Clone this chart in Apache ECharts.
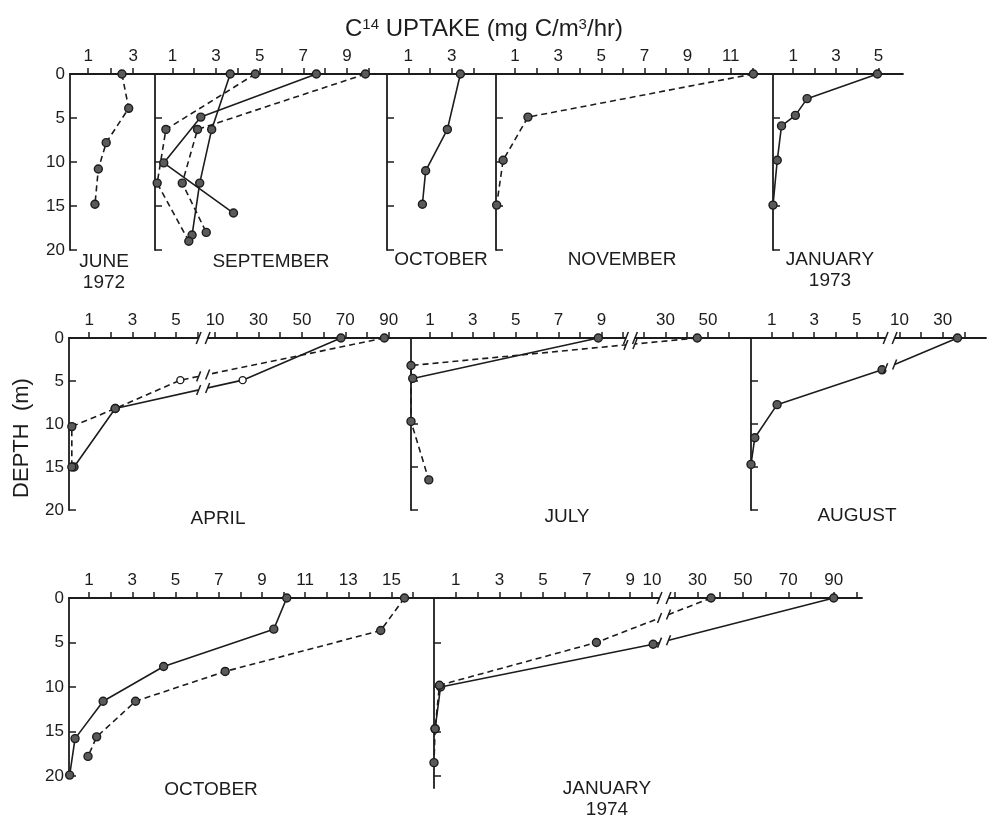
<!DOCTYPE html>
<html>
<head>
<meta charset="utf-8">
<title>C14 uptake profiles</title>
<script src="https://cdn.jsdelivr.net/npm/echarts@6/dist/echarts.min.js"></script>
<style>
  html, body { margin: 0; padding: 0; background: #fff; }
  #chart { width: 987px; height: 818px; }
</style>
</head>
<body>
<div id="chart"></div>
<script>
// ---- Data: each profile point is [uptake (mg C/m3/hr), depth (m)] ----
const depthTicks = [0, 5, 10, 15, 20];

const jun72Dashed  = [[2.5, 0], [2.8, 3.9], [1.8, 7.8], [1.45, 10.8], [1.3, 14.8]];
const sep72SolidA  = [[7.6, 0], [2.3, 4.9], [0.6, 10.1], [3.8, 15.8]];
const sep72SolidB  = [[3.65, 0], [2.8, 6.3], [2.25, 12.4], [1.9, 18.3]];
const sep72DashedA = [[4.8, 0], [0.7, 6.3], [0.3, 12.4], [1.75, 19.0]];
const sep72DashedB = [[9.85, 0], [2.15, 6.3], [1.45, 12.4], [2.55, 18.0]];
const oct72Solid   = [[3.4, 0], [2.8, 6.3], [1.8, 11.0], [1.65, 14.8]];
const nov72Dashed  = [[12.05, 0], [1.6, 4.9], [0.45, 9.8], [0.15, 14.9]];
const jan73Solid   = [[4.95, 0], [1.65, 2.8], [1.1, 4.7], [0.45, 5.9], [0.25, 9.8], [0.05, 14.9]];
const apr73Solid   = [[68, 0], [22.7, 4.9], [2.2, 8.2], [0.3, 15]];
const apr73Dashed  = [[88, 0], [5.2, 4.9], [2.2, 8.2], [0.2, 10.3], [0.2, 15]];
const jul73Solid   = [[8.85, 0], [0.2, 4.7]];
const jul73Dashed  = [[45, 0], [0.12, 3.2], [0.12, 9.7], [0.95, 16.5]];
const aug73Solid   = [[36.8, 0], [6.2, 3.7], [1.25, 7.75], [0.2, 11.6], [0.02, 14.7]];
const oct73Solid   = [[10.15, 0], [9.55, 3.5], [4.45, 7.7], [1.65, 11.6], [0.35, 15.8], [0.1, 19.9]];
const oct73Dashed  = [[15.6, 0], [14.5, 3.65], [7.3, 8.25], [3.15, 11.6], [1.35, 15.6], [0.95, 17.8]];
const jan74Solid   = [[90, 0], [10.5, 5.2], [0.3, 10], [0.05, 14.7]];
const jan74Dashed  = [[36, 0], [7.45, 5], [0.25, 9.8], [0.05, 14.7], [0, 18.5]];

// indices of points drawn as open circles
const apr73SolidOpen  = [1];
const apr73DashedOpen = [1];

// ---- Uptake axis ticks and labels ----
const jun72Ticks = [1, 2, 3];                         const jun72Labels = [1, 3];
const sep72Ticks = [1, 2, 3, 4, 5, 6, 7, 8, 9, 10];   const sep72Labels = [1, 3, 5, 7, 9];
const oct72Ticks = [1, 2, 3, 4];                      const oct72Labels = [1, 3];
const nov72Ticks = [1, 2, 3, 4, 5, 6, 7, 8, 9, 10, 11, 12]; const nov72Labels = [1, 3, 5, 7, 9, 11];
const jan73Ticks = [1, 2, 3, 4, 5];                   const jan73Labels = [1, 3, 5];
const apr73Ticks = [1, 2, 3, 4, 5, 6, 10, 20, 30, 40, 50, 60, 70, 80, 90, 100];
const apr73Labels = [1, 3, 5, 10, 30, 50, 70, 90];
const jul73Ticks = [1, 2, 3, 4, 5, 6, 7, 8, 9, 10, 20, 30, 40, 50, 60];
const jul73Labels = [1, 3, 5, 7, 9, 30, 50];
const aug73Ticks = [1, 2, 3, 4, 5, 6, 10, 20, 30, 40];
const aug73Labels = [1, 3, 5, 10, 30];
const oct73Ticks = [1, 2, 3, 4, 5, 6, 7, 8, 9, 10, 11, 12, 13, 14, 15, 16];
const oct73Labels = [1, 3, 5, 7, 9, 11, 13, 15];
const jan74Ticks = [1, 2, 3, 4, 5, 6, 7, 8, 9, 10, 20, 30, 40, 50, 60, 70, 80, 90, 100];
const jan74Labels = [1, 3, 5, 7, 9, 10, 30, 50, 70, 90];

// ---- Panel layout and axis scales ----
// brk: broken uptake scale; values >= v0 are compressed by factor k and start at axis unit d0
const panels = [
  { grid: { left: 70,  top: 74,  width: 85,  height: 176 }, min: 0.19, max: 3.97, ticks: jun72Ticks, labels: jun72Labels, depthLabels: true,
    lines: [{ data: jun72Dashed, dashed: true }] },
  { grid: { left: 155, top: 74,  width: 232, height: 176 }, min: 0.2, max: 10.84, ticks: sep72Ticks, labels: sep72Labels,
    lines: [{ data: sep72SolidA }, { data: sep72SolidB }, { data: sep72DashedA, dashed: true }, { data: sep72DashedB, dashed: true }] },
  { grid: { left: 387, top: 74,  width: 109, height: 176 }, min: 0.02, max: 5.04, ticks: oct72Ticks, labels: oct72Labels,
    lines: [{ data: oct72Solid }] },
  { grid: { left: 496, top: 74,  width: 277, height: 176 }, min: 0.12, max: 12.96, ticks: nov72Ticks, labels: nov72Labels,
    lines: [{ data: nov72Dashed, dashed: true }] },
  { grid: { left: 773, top: 74,  width: 130, height: 176 }, min: 0.05, max: 6.15, ticks: jan73Ticks, labels: jan73Labels,
    lines: [{ data: jan73Solid }] },
  { grid: { left: 69,  top: 338, width: 341, height: 172 }, min: 0.07, max: 15.78, ticks: apr73Ticks, labels: apr73Labels, depthLabels: true,
    brk: { v0: 10, d0: 6.8, k: 10, mark: 6.25 },
    lines: [{ data: apr73Solid, open: apr73SolidOpen }, { data: apr73Dashed, dashed: true, open: apr73DashedOpen }] },
  { grid: { left: 411, top: 338, width: 340, height: 172 }, min: 0.12, max: 15.97, ticks: jul73Ticks, labels: jul73Labels,
    brk: { v0: 10, d0: 10, k: 10.1, mark: 10.35 },
    lines: [{ data: jul73Solid }, { data: jul73Dashed, dashed: true }] },
  { grid: { left: 751, top: 338, width: 235, height: 172 }, min: 0.02, max: 11.1, ticks: aug73Ticks, labels: aug73Labels,
    brk: { v0: 10, d0: 7.02, k: 9.8, mark: 6.58 },
    lines: [{ data: aug73Solid }] },
  { grid: { left: 69,  top: 598, width: 364, height: 178 }, min: 0.07, max: 16.92, ticks: oct73Ticks, labels: oct73Labels, depthLabels: true,
    lines: [{ data: oct73Solid }, { data: oct73Dashed, dashed: true }] },
  { grid: { left: 434, top: 598, width: 428, height: 190 }, min: 0, max: 19.63, depthMax: 21.35, ticks: jan74Ticks, labels: jan74Labels,
    brk: { v0: 10, d0: 10, k: 9.6, mark: 10.55 },
    lines: [{ data: jan74Solid }, { data: jan74Dashed, dashed: true }] }
];

const monthLabels = [
  { text: 'JUNE\n1972',    x: 104, y: 272 },
  { text: 'SEPTEMBER',     x: 271, y: 262 },
  { text: 'OCTOBER',       x: 441, y: 260 },
  { text: 'NOVEMBER',      x: 622, y: 260 },
  { text: 'JANUARY\n1973', x: 830, y: 270 },
  { text: 'APRIL',         x: 218, y: 519 },
  { text: 'JULY',          x: 567, y: 517 },
  { text: 'AUGUST',        x: 857, y: 516 },
  { text: 'OCTOBER',       x: 211, y: 790 },
  { text: 'JANUARY\n1974', x: 607, y: 799 }
];

const ink = '#1c1c1c';
const font = 'Liberation Sans';

// map an uptake value onto the (possibly broken) axis
function toAxis(p, v) {
  const b = p.brk;
  if (!b || v < b.v0) return v;
  return b.d0 + (v - b.v0) / b.k;
}

// short slanted stroke centred on (x, y)
function slash(x, y, h) {
  return { type: 'line', shape: { x1: x - h * 0.4, y1: y + h, x2: x + h * 0.4, y2: y - h },
           style: { stroke: ink, lineWidth: 1.5 } };
}

const grids = [], xAxes = [], yAxes = [], series = [];

panels.forEach((p, i) => {
  grids.push(Object.assign({ containLabel: false, outerBoundsMode: 'none' }, p.grid));

  const labelMap = new Map(p.labels.map(v => [toAxis(p, v).toFixed(4), String(v)]));
  xAxes.push({
    type: 'value', gridIndex: i, position: 'top', min: p.min, max: p.max,
    axisLine: { show: true, onZero: false, lineStyle: { color: ink, width: 1.8 } },
    axisTick: { show: true, inside: false, length: 6, lineStyle: { color: ink, width: 1.5 },
      customValues: p.ticks.map(v => toAxis(p, v)) },
    axisLabel: { show: true, color: ink, fontSize: 17, fontFamily: font, margin: 9,
      customValues: p.labels.map(v => toAxis(p, v)),
      formatter: v => labelMap.get(Number(v).toFixed(4)) || '' },
    splitLine: { show: false }
  });

  yAxes.push({
    type: 'value', gridIndex: i, inverse: true, min: 0, max: p.depthMax || 20,
    axisLine: { show: true, onZero: false, lineStyle: { color: ink, width: 1.8 } },
    axisTick: { show: true, inside: true, length: 7, lineStyle: { color: ink, width: 1.5 },
      customValues: depthTicks },
    axisLabel: { show: !!p.depthLabels, color: ink, fontSize: 17, fontFamily: font, margin: 5,
      customValues: depthTicks },
    splitLine: { show: false }
  });

  p.lines.forEach(l => {
    const open = l.open || [];
    const pts = l.data.map(pt => [toAxis(p, pt[0]), pt[1]]);
    series.push({
      type: 'line', xAxisIndex: i, yAxisIndex: i, z: 3,
      symbol: 'circle', symbolSize: 8, showAllSymbol: true,
      lineStyle: { color: ink, width: 1.6, type: l.dashed ? [6, 4] : 'solid' },
      itemStyle: { color: '#5a5a5a', borderColor: ink, borderWidth: 1.4 },
      data: pts.map((v, j) => {
        const item = { value: v };
        if (open.includes(j)) { item.itemStyle = { color: '#fff' }; item.symbolSize = 7; }
        return item;
      }),
      animation: false
    });

    // interrupt segments that cross the scale break
    if (p.brk) {
      const segs = [];
      for (let j = 1; j < pts.length; j++) {
        const a = pts[j - 1], b = pts[j];
        if ((a[0] - p.brk.mark) * (b[0] - p.brk.mark) < 0) segs.push([a[0], a[1], b[0], b[1]]);
      }
      if (segs.length) {
        series.push({
          type: 'custom', xAxisIndex: i, yAxisIndex: i, z: 4, clip: false, silent: true,
          data: segs,
          renderItem: (params, api) => {
            const c1 = api.coord([api.value(0), api.value(1)]);
            const c2 = api.coord([api.value(2), api.value(3)]);
            const xm = api.coord([p.brk.mark, 0])[0];
            const slope = (c2[1] - c1[1]) / (c2[0] - c1[0]);
            const ym = c1[1] + (xm - c1[0]) * slope;
            const g = 4.5;
            return {
              type: 'group',
              children: [
                { type: 'line', shape: { x1: xm - g, y1: ym - g * slope, x2: xm + g, y2: ym + g * slope },
                  style: { stroke: '#fff', lineWidth: 5 } },
                slash(xm - g, ym - g * slope, 5),
                slash(xm + g, ym + g * slope, 5)
              ]
            };
          },
          animation: false
        });
      }
    }
  });

  // "//" break symbol on the uptake axis
  if (p.brk) {
    series.push({
      type: 'custom', xAxisIndex: i, yAxisIndex: i, z: 5, clip: false, silent: true,
      data: [[p.brk.mark, 0]],
      renderItem: (params, api) => {
        const c = api.coord([api.value(0), api.value(1)]);
        return {
          type: 'group',
          children: [
            { type: 'rect', shape: { x: c[0] - 4, y: c[1] - 2, width: 8, height: 4 }, style: { fill: '#fff' } },
            slash(c[0] - 4.5, c[1], 6),
            slash(c[0] + 4.5, c[1], 6)
          ]
        };
      },
      animation: false
    });
  }
});

const graphics = [
  {
    type: 'text', x: 484, y: 29,
    style: {
      text: 'C{sup|14} UPTAKE (mg C/m{sup|3}/hr)',
      fill: ink, font: '24px "' + font + '"', align: 'center', verticalAlign: 'middle',
      rich: { sup: { fontSize: 15, fontFamily: font, verticalAlign: 'top', padding: [0, 0, 9, 0], fill: ink } }
    }
  },
  {
    type: 'text', x: 22, y: 438, rotation: Math.PI / 2,
    style: { text: 'DEPTH  (m)', fill: ink, font: '22px "' + font + '"', align: 'center', verticalAlign: 'middle' }
  }
].concat(monthLabels.map(m => ({
  type: 'text', x: m.x, y: m.y,
  style: { text: m.text, fill: ink, font: '19px "' + font + '"', align: 'center', verticalAlign: 'middle', lineHeight: 21 }
})));

const chart = echarts.init(document.getElementById('chart'), null, { renderer: 'canvas' });
chart.setOption({
  backgroundColor: '#fff',
  animation: false,
  grid: grids,
  xAxis: xAxes,
  yAxis: yAxes,
  series: series,
  graphic: graphics
});
</script>
</body>
</html>
